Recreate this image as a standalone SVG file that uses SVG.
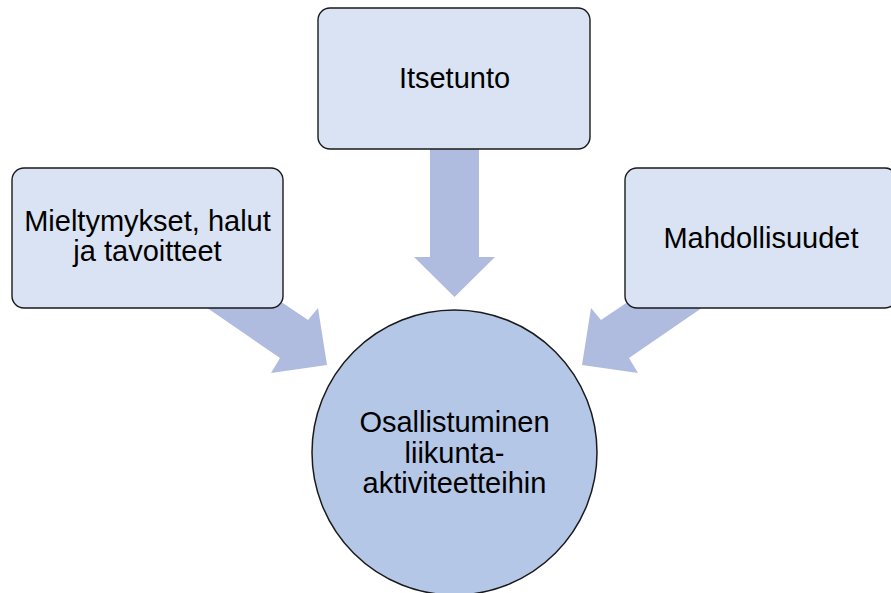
<svg xmlns="http://www.w3.org/2000/svg" width="891" height="593" viewBox="0 0 891 593">
<style>
.box{fill:#dae3f3;stroke:#1a1a1a;stroke-width:1.4}
.circ{fill:#b4c7e7;stroke:#1a1a1a;stroke-width:1.5}
.arr{fill:#afbcdf;stroke:none}
text{font-family:"Liberation Sans",Arial,sans-serif;font-size:29px;fill:#000;text-anchor:middle}
</style>
<rect width="891" height="593" fill="#fff"/>
<g id="connectors">
<polygon class="arr" points="430,140 479,140 479,257 495,257 454.5,297 414,257 430,257"/>
<polygon class="arr" points="200,303 280,358 271,373 327,365 318,308 308,320 262,289"/>
<polygon class="arr" transform="translate(909,0) scale(-1,1)" points="200,303 280,358 271,373 327,365 318,308 308,320 262,289"/>
</g>
<g id="itsetunto">
<rect class="box" x="318" y="8" width="272" height="141" rx="12"/>
<text x="454.5" y="88">Itsetunto</text>
</g>
<g id="mieltymykset">
<rect class="box" x="12" y="168" width="271" height="140" rx="12"/>
<text x="147.5" y="231">Mieltymykset, halut</text>
<text x="147.5" y="261">ja tavoitteet</text>
</g>
<g id="mahdollisuudet">
<rect class="box" x="625" y="168" width="272" height="140" rx="12"/>
<text x="761" y="248">Mahdollisuudet</text>
</g>
<g id="osallistuminen">
<circle class="circ" cx="454.5" cy="452.5" r="142.5"/>
<text x="454.5" y="432">Osallistuminen</text>
<text x="454.5" y="463">liikunta-</text>
<text x="454.5" y="493">aktiviteetteihin</text>
</g>
</svg>
